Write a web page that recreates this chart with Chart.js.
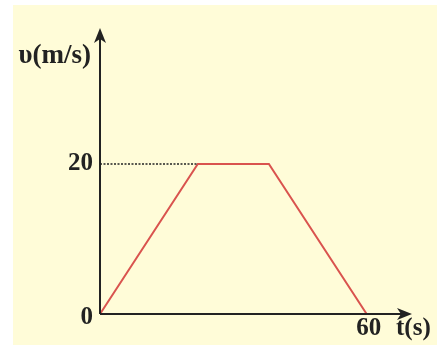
<!DOCTYPE html>
<html><head><meta charset="utf-8">
<script src="https://cdn.jsdelivr.net/npm/chart.js@4"></script>
<style>html,body{margin:0;padding:0;background:#fff}canvas{display:block}</style>
</head><body>
<canvas id="c" width="438" height="347"></canvas>
<script>
const timeValues = [0, 22, 38, 60];
const speedValues = [0, 20, 20, 0];
const guideTimes = [0, 22];
const guideSpeeds = [20, 20];
const yTickLabels = [0, 20];
const xTickLabels = [60];
const yAxisTitle = 'υ(m/s)';
const xAxisTitle = 't(s)';

const FONT = 'bold 25px "Liberation Serif", "DejaVu Serif", serif';
const TITLE_FONT = 'bold 27px "Liberation Serif", "DejaVu Serif", serif';
const INK = '#222';

const bgPlugin = {
  id: 'bg',
  beforeDraw(chart) {
    const ctx = chart.ctx;
    ctx.save();
    ctx.fillStyle = '#fff';
    ctx.fillRect(0, 0, chart.width, chart.height);
    ctx.fillStyle = '#FFFCD8';
    ctx.fillRect(13, 5, 424, 340);
    ctx.restore();
  }
};

const axesPlugin = {
  id: 'axes',
  afterDatasetsDraw(chart) {
    const ctx = chart.ctx;
    const xs = chart.scales.x, ys = chart.scales.y;
    const ox = xs.getPixelForValue(0), oy = ys.getPixelForValue(0);
    const xEnd = xs.getPixelForValue(xs.max), yEnd = ys.getPixelForValue(ys.max);
    ctx.save();
    ctx.strokeStyle = INK; ctx.fillStyle = INK; ctx.lineWidth = 2;
    ctx.beginPath();
    ctx.moveTo(ox, oy); ctx.lineTo(ox, yEnd + 10);
    ctx.moveTo(ox, oy); ctx.lineTo(xEnd - 10, oy);
    ctx.stroke();
    ctx.beginPath();
    ctx.moveTo(ox, yEnd);
    ctx.lineTo(ox - 6, yEnd + 15);
    ctx.lineTo(ox, yEnd + 11);
    ctx.lineTo(ox + 6, yEnd + 15);
    ctx.closePath(); ctx.fill();
    ctx.beginPath();
    ctx.moveTo(xEnd, oy);
    ctx.lineTo(xEnd - 15, oy - 6);
    ctx.lineTo(xEnd - 11, oy);
    ctx.lineTo(xEnd - 15, oy + 6);
    ctx.closePath(); ctx.fill();

    ctx.font = FONT;
    ctx.textBaseline = 'middle';
    ctx.textAlign = 'right';
    yTickLabels.forEach(v => {
      const py = ys.getPixelForValue(v);
      ctx.fillText(String(v), ox - 7, v === 0 ? py + 4 : py);
    });
    ctx.textAlign = 'center';
    xTickLabels.forEach(v => {
      ctx.fillText(String(v), xs.getPixelForValue(v) + 2, oy + 15);
    });
    ctx.textAlign = 'left';
    ctx.fillText(xAxisTitle, 396, oy + 15);
    ctx.font = TITLE_FONT;
    ctx.textAlign = 'right';
    ctx.fillText(yAxisTitle, ox - 9, 56);
    ctx.restore();
  }
};

new Chart(document.getElementById('c'), {
  type: 'line',
  data: {
    datasets: [
      {
        data: guideTimes.map((t, i) => ({x: t, y: guideSpeeds[i]})),
        borderColor: '#222', borderWidth: 1.5, borderDash: [2, 1.5],
        pointRadius: 0, fill: false, tension: 0
      },
      {
        data: timeValues.map((t, i) => ({x: t, y: speedValues[i]})),
        borderColor: '#D9534E', borderWidth: 2,
        pointRadius: 0, fill: false, tension: 0
      }
    ]
  },
  options: {
    responsive: false,
    animation: false,
    layout: { padding: { left: 100, right: 26, top: 28, bottom: 33 } },
    plugins: { legend: { display: false }, tooltip: { enabled: false } },
    scales: {
      x: { type: 'linear', min: 0, max: 70.2, display: false },
      y: { type: 'linear', min: 0, max: 38.13, display: false }
    }
  },
  plugins: [bgPlugin, axesPlugin]
});
</script>
</body></html>
